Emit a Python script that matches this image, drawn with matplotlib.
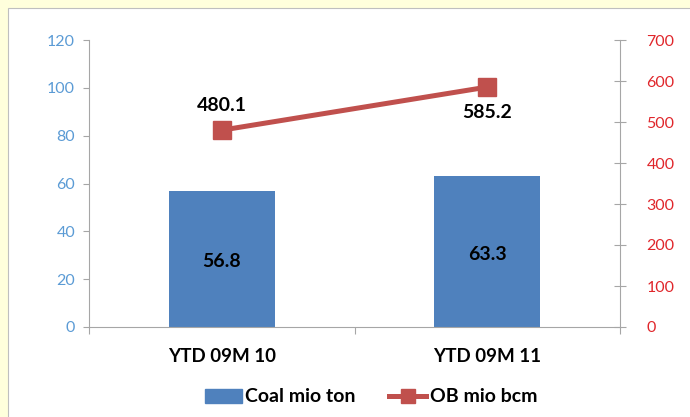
import matplotlib
matplotlib.use("Agg")
import matplotlib.pyplot as plt
from matplotlib.patches import Rectangle
from matplotlib.lines import Line2D
import numpy as np

categories = ["YTD 09M 10", "YTD 09M 11"]
coal = [56.8, 63.3]
ob = [480.1, 585.2]
left_ticks = [0, 20, 40, 60, 80, 100, 120]
right_ticks = [0, 100, 200, 300, 400, 500, 600, 700]

plt.rcParams['font.family'] = ['Lato', 'DejaVu Sans']

BLUE = '#4F81BD'
RED = '#C0504D'
GRAY = '#A6A6A6'

fig = plt.figure(figsize=(6.9, 4.17), dpi=100)
fig.patch.set_facecolor('#FFFFDC')
# white panel
panel = Rectangle((8/690, -0.01), 1 - 8/690 + 0.01, 1 - 8/417 + 0.01, transform=fig.transFigure,
                  facecolor='white', edgecolor='#BFBFBF', lw=0.8, zorder=-5)
fig.add_artist(panel)

ax = fig.add_axes([89/690, 90/417, 531/690, 287/417])
ax.set_facecolor('none')
x = np.arange(len(categories))
bars = ax.bar(x, coal, width=0.4, color=BLUE, zorder=2)
ax.set_xlim(-0.5, 1.5)
ax.set_ylim(0, 120)
ax.set_yticks(left_ticks)
ax.set_xticks([-0.5, 0.5, 1.5], minor=False)
ax.set_xticklabels([])
ax.set_xticks(x, minor=True)
ax.set_xticklabels(categories, minor=True, fontsize=13.5, fontweight='bold')
ax.tick_params(axis='x', which='minor', length=0, pad=15)
ax.tick_params(axis='x', which='major', length=5, color=GRAY, direction='out')
ax.tick_params(axis='y', length=4, color=GRAY, labelcolor='#5B9BD5', labelsize=11.5, pad=6)
for s in ['top', 'right']:
    ax.spines[s].set_visible(False)
ax.spines['left'].set_color(GRAY)
ax.spines['bottom'].set_color(GRAY)
for b, v in zip(bars, coal):
    ax.text(b.get_x() + b.get_width()/2, v/2 - 1.2, f"{v:.1f}", ha='center', va='center',
            fontsize=14, fontweight='bold', color='black', zorder=3)

ax2 = ax.twinx()
ax2.set_ylim(0, 700)
ax2.set_yticks(right_ticks)
ax2.plot(x, ob, color=RED, lw=3.6, marker='s', markersize=13, zorder=4)
for s in ['top', 'left', 'bottom']:
    ax2.spines[s].set_visible(False)
ax2.spines['right'].set_color(GRAY)
ax2.tick_params(axis='y', length=8, color=GRAY, direction='inout', labelcolor='#E0262B',
                labelsize=11.5, pad=15)
ax2.text(x[0], ob[0] + 60, f"{ob[0]:.1f}", ha='center', va='center', fontsize=14, fontweight='bold')
ax2.text(x[1], ob[1] - 63, f"{ob[1]:.1f}", ha='center', va='center', fontsize=14, fontweight='bold')

handles = [Rectangle((0, 0), 1, 1, color=BLUE),
           Line2D([0], [0], color=RED, lw=3.6, marker='s', markersize=10)]
leg = fig.legend(handles, ["Coal mio ton", "OB mio bcm"], loc='center', bbox_to_anchor=(371/690, 20/417),
                 ncol=2, frameon=False, prop={'size': 14, 'weight': 'bold'}, handlelength=1.9,
                 columnspacing=1.7, handletextpad=0.2)

fig.savefig("out.png", dpi=100, facecolor=fig.get_facecolor())
